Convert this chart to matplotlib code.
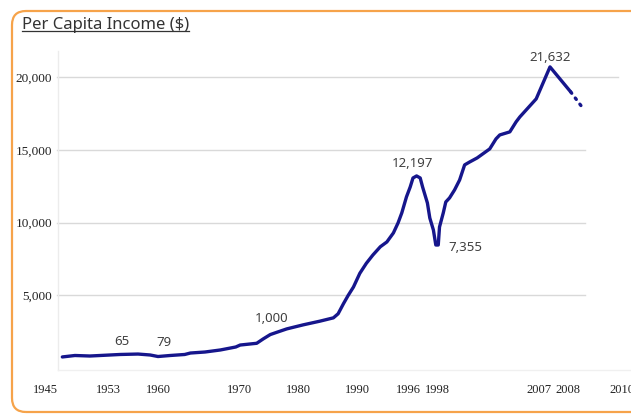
import numpy as np
import matplotlib
matplotlib.use("Agg")
import matplotlib.pyplot as plt
from matplotlib.patches import FancyBboxPatch
from matplotlib.lines import Line2D
from matplotlib.transforms import IdentityTransform, ScaledTranslation

# values (line height on the drawn y scale)
years = [1947.2, 1948.8, 1950.7, 1952.0, 1954.7, 1957.2, 1958.9, 1960.0, 1961.5,
         1963.3, 1964.0, 1965.8, 1967.7, 1969.6, 1970.2, 1973.0, 1974.1, 1975.3,
         1976.4, 1978.1, 1980.9, 1983.7, 1986.0, 1986.8, 1987.7, 1988.5, 1989.4,
         1990.3, 1991.0, 1991.7, 1992.5, 1993.2, 1993.9, 1994.4, 1994.8, 1995.3,
         1995.7, 1996.0, 1996.3, 1996.6, 1996.8, 1997.2, 1997.4, 1997.7, 1997.9,
         1998.1, 1998.2, 1998.5, 1998.7, 1999.0, 1999.4, 1999.8, 2000.2, 2000.6,
         2001.2, 2002.2, 2002.7, 2003.0, 2003.8, 2004.3, 2004.6, 2005.9, 2007.0,
         2008.1]
income = [760, 860, 825, 860, 930, 960, 895, 790, 860,
          930, 1030, 1100, 1240, 1445, 1580, 1700, 2000, 2300,
          2455, 2690, 2970, 3220, 3450, 3730, 4420, 4990, 5570,
          6510, 7200, 7770, 8340, 8670, 9290, 9980, 10670, 11770,
          12450, 13070, 13210, 13070, 12450, 11350, 10320, 9490, 8460,
          8460, 9700, 10670, 11420, 11700, 12250, 12930, 13970, 14170,
          14450, 15070, 15760, 16030, 16240, 16930, 17270, 18510, 20710,
          18990]
tail_years = [2008.1, 2008.6]
tail_income = [18990, 17750]

ytick_vals = [5000, 10000, 15000, 20000]
ytick_labels = ["5,000", "10,000", "15,000", "20,000"]
xtick_years = [1945, 1953, 1960, 1970, 1980, 1990, 1996, 1998, 2007, 2008, 2010]

ann_years = [1954.9, 1960.7, 1975.6, 1996.3, 1998.1, 2007.0]
ann_labels = ["65", "79", "1,000", "12,197", "7,355", "21,632"]

# the original axis has uneven spacing between years
scale_years = [1940, 1945, 1953, 1960, 1970, 1980, 1990, 1996, 1998, 2007, 2008, 2010, 2013]
scale_pos = [5.6, 45, 108, 158, 239, 298, 357, 413, 437, 550, 568, 622, 703]


def fwd(x):
    return np.interp(x, scale_years, scale_pos)


def inv(p):
    return np.interp(p, scale_pos, scale_years)


W, H = 631, 416
NAVY = "#16168c"
fig = plt.figure(figsize=(W / 100, H / 100), dpi=100)
fig.patch.set_facecolor("white")

ax = fig.add_axes([40 / W, 1 - 372 / H, (W - 40) / W, (372 - 40) / H])
ax.set_xscale("function", functions=(fwd, inv))
ax.set_xlim(inv(40), inv(631))
ax.set_ylim(-275, 22560)
for s in ax.spines.values():
    s.set_visible(False)

# grid, faint axis lines
x0 = inv(57)
for v in ytick_vals:
    x1 = inv(618) if v == 20000 else inv(585)
    ax.plot([x0, x1], [v, v], color="#d9d9d9", lw=1, zorder=0)
ax.plot([inv(58), inv(58)], [-150, 21800], color="#ececec", lw=1, zorder=0)
ax.plot([inv(58), inv(631)], [-150, -150], color="#f0f0f0", lw=1, zorder=0)

ax.plot(years, income, color=NAVY, lw=2.4, solid_joinstyle="round",
        solid_capstyle="round", zorder=3)
ax.plot(tail_years, tail_income, color=NAVY, lw=2.4,
        linestyle=(0, (0.5, 1.8)), dash_capstyle="round", zorder=3)

serif = "Liberation Serif"
ax.set_yticks(ytick_vals, ytick_labels)
ax.tick_params(axis="y", length=0, pad=-8.6, labelsize=9.5, labelcolor="#222222")
ax.set_xticks(xtick_years, [str(y) for y in xtick_years])
ax.tick_params(axis="x", length=0, pad=8.5, labelsize=9, labelcolor="#222222")
for lab in ax.get_xticklabels() + ax.get_yticklabels():
    lab.set_fontfamily(serif)

# the original labels for 1996 and 2007 sit a little left of their years
nudge = {"1996": -5, "2007": -11}
for lab in ax.get_xticklabels():
    dx = nudge.get(lab.get_text(), 0)
    if dx:
        lab.set_transform(lab.get_transform() + ScaledTranslation(dx / 100, 0, fig.dpi_scale_trans))

# value labels
offsets = [(0, 9), (0, 10), (0, 11), (-3, 9), (7, -2), (0, 7)]
has = ["center", "center", "center", "center", "left", "center"]
for yr, lab, off, ha in zip(ann_years, ann_labels, offsets, has):
    yv = np.interp(yr, years, income)
    ax.annotate(lab, (yr, yv), xytext=off, textcoords="offset points",
                ha=ha, va="center", fontsize=9.5, color="#404040",
                fontfamily="Noto Sans", zorder=4)

# title with underline
title = fig.text(22 / W, 1 - 25 / H, "Per Capita Income ($)", ha="left", va="center",
                 fontsize=12, color="#333333", fontfamily="Noto Sans")
fig.canvas.draw()
bb = title.get_window_extent(fig.canvas.get_renderer())
fig.add_artist(Line2D([bb.x0, bb.x1], [bb.y0 + 2, bb.y0 + 2], color="#333333",
                      lw=0.9, transform=IdentityTransform()))

# rounded orange frame
frame = FancyBboxPatch((12, 4), 640, 401, boxstyle="round,pad=0,rounding_size=14",
                       fill=False, edgecolor="#f6a34a", lw=1.6,
                       transform=IdentityTransform())
fig.add_artist(frame)

fig.savefig("out.png", dpi=100)
